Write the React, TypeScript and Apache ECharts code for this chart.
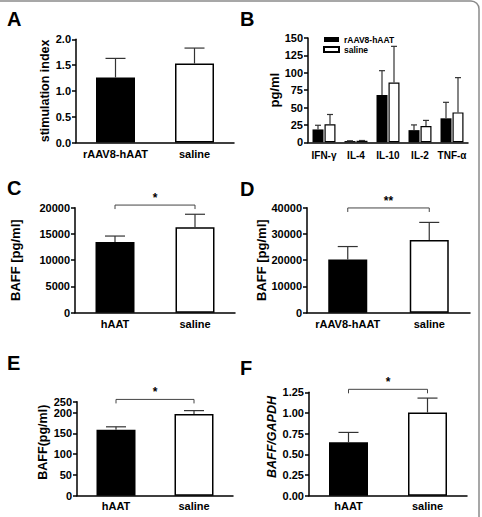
import React, { useEffect, useRef } from "react";
import * as echarts from "echarts";

// ---------- data ----------
const A_CATS = ["rAAV8-hAAT", "saline"];
const A_MEAN = [1.26, 1.53];
const A_SEM = [0.37, 0.3];

const B_CATS = ["IFN-γ", "IL-4", "IL-10", "IL-2", "TNF-α"];
const B_SERIES = ["rAAV8-hAAT", "saline"];
const B_HAAT_MEAN = [18.5, 1.8, 68, 17.5, 34.5];
const B_HAAT_SEM = [6, 0.4, 35, 7.5, 23];
const B_SALINE_MEAN = [26, 2.2, 86, 23.5, 43];
const B_SALINE_SEM = [14, 0.4, 52, 8, 50];

const C_CATS = ["hAAT", "saline"];
const C_MEAN = [13450, 16300];
const C_SEM = [1150, 2450];
const C_SIG = { label: "*", height: 20500 };

const D_CATS = ["rAAV8-hAAT", "saline"];
const D_MEAN = [20300, 27700];
const D_SEM = [4900, 6700];
const D_SIG = { label: "**", height: 39900 };

const E_CATS = ["hAAT", "saline"];
const E_MEAN = [159, 197];
const E_SEM = [7, 8];
const E_SIG = { label: "*", height: 232 };
const E_AXIS_TOP = 226.5; // top tick of the drawn axis
const E_TOP_LABEL = "250";

const F_CATS = ["hAAT", "saline"];
const F_MEAN = [0.645, 1.005];
const F_SEM = [0.12, 0.175];
const F_SIG = { label: "*", height: 1.286 };

const FONT = "'Liberation Sans', Arial, Helvetica, sans-serif";

const grids = [
  { left: 76, top: 39.3, width: 158, height: 103.2 }, // A
  { left: 308, top: 38, width: 160, height: 104.3 }, // B
  { left: 75, top: 207.7, width: 160, height: 105 }, // C
  { left: 307, top: 207.7, width: 163, height: 105 }, // D
  { left: 77, top: 401.7, width: 156, height: 94 }, // E
  { left: 309, top: 392.3, width: 158, height: 103.4 }, // F
];

const axisLineStyle = { color: "#000", width: 1.5 };

function xAx(gi: number, cats: string[], fontSize = 11, margin = 6) {
  return {
    type: "category",
    gridIndex: gi,
    data: cats,
    axisLine: { lineStyle: axisLineStyle },
    axisTick: { alignWithLabel: true, length: 4, lineStyle: axisLineStyle },
    axisLabel: {
      color: "#000",
      fontWeight: "bold",
      fontFamily: FONT,
      fontSize,
      margin,
      interval: 0,
    },
  };
}

function yAx(
  gi: number,
  name: string,
  min: number,
  max: number,
  interval: number,
  fmt: (v: number) => string,
  nameGap: number,
  nameStyle: any = {}
) {
  return {
    type: "value",
    gridIndex: gi,
    min,
    max,
    interval,
    name,
    nameLocation: "middle",
    nameRotate: 90,
    nameGap,
    nameTextStyle: {
      color: "#000",
      fontWeight: "bold",
      fontFamily: FONT,
      fontSize: 12.5,
      ...nameStyle,
    },
    splitLine: { show: false },
    axisLine: { show: true, lineStyle: axisLineStyle },
    axisTick: { show: true, length: 4, lineStyle: axisLineStyle },
    axisLabel: {
      color: "#000",
      fontWeight: "bold",
      fontFamily: FONT,
      fontSize: 11,
      margin: 5,
      formatter: fmt,
    },
  };
}

function pairBars(gi: number, means: number[], barW = 39) {
  return {
    type: "bar",
    xAxisIndex: gi,
    yAxisIndex: gi,
    barWidth: barW,
    z: 2,
    data: means.map((m, i) =>
      i === 0
        ? { value: m, itemStyle: { color: "#000" } }
        : {
            value: m,
            itemStyle: { color: "#fff", borderColor: "#000", borderWidth: 1.5 },
          }
    ),
  };
}

function errSeries(
  gi: number,
  means: number[],
  sems: number[],
  offset: number,
  capHalf: number
) {
  return {
    type: "custom",
    xAxisIndex: gi,
    yAxisIndex: gi,
    z: 4,
    silent: true,
    data: means.map((m, i) => [i, m, m + sems[i]]),
    renderItem: (_params: any, api: any) => {
      const lo = api.coord([api.value(0), api.value(1)]);
      const hi = api.coord([api.value(0), api.value(2)]);
      const x = lo[0] + offset;
      const st = { stroke: "#333", lineWidth: 1.2 };
      return {
        type: "group",
        children: [
          { type: "line", shape: { x1: x, y1: lo[1], x2: x, y2: hi[1] }, style: st },
          {
            type: "line",
            shape: { x1: x - capHalf, y1: hi[1], x2: x + capHalf, y2: hi[1] },
            style: st,
          },
        ],
      };
    },
  };
}

function sigSeries(gi: number, sig: { label: string; height: number }) {
  return {
    type: "custom",
    xAxisIndex: gi,
    yAxisIndex: gi,
    z: 5,
    silent: true,
    clip: false,
    data: [[0, sig.height, 1]],
    renderItem: (_params: any, api: any) => {
      const p0 = api.coord([0, api.value(1)]);
      const p1 = api.coord([1, api.value(1)]);
      return {
        type: "group",
        children: [
          {
            type: "polyline",
            shape: {
              points: [
                [p0[0], p0[1] + 4],
                [p0[0], p0[1]],
                [p1[0], p1[1]],
                [p1[0], p1[1] + 4],
              ],
            },
            style: { stroke: "#444", lineWidth: 1, fill: null },
          },
          {
            type: "text",
            style: {
              text: sig.label,
              x: (p0[0] + p1[0]) / 2,
              y: p0[1] - 1,
              align: "center",
              verticalAlign: "bottom",
              font: `bold 12px ${FONT}`,
              fill: "#000",
            },
          },
        ],
      };
    },
  };
}

const letters = [
  { t: "A", x: 7, y: 9 },
  { t: "B", x: 240, y: 9 },
  { t: "C", x: 7, y: 178 },
  { t: "D", x: 240, y: 179 },
  { t: "E", x: 7, y: 353 },
  { t: "F", x: 240, y: 358 },
];

export default function App() {
  const ref = useRef<HTMLDivElement>(null);
  useEffect(() => {
    document.body.style.margin = "0";
    const chart = echarts.init(ref.current!, null, { renderer: "svg" });
    const option: any = {
      animation: false,
      backgroundColor: "#fff",
      textStyle: { fontFamily: FONT },
      grid: grids.map((g) => ({ ...g, containLabel: false })),
      legend: {
        data: B_SERIES,
        orient: "vertical",
        left: 318,
        top: 30,
        itemWidth: 15,
        itemHeight: 5,
        itemGap: 1,
        icon: "rect",
        textStyle: {
          color: "#000",
          fontWeight: "bold",
          fontFamily: FONT,
          fontSize: 8.5,
        },
        selectedMode: false,
      },
      xAxis: [
        xAx(0, A_CATS),
        xAx(1, B_CATS, 10, 8),
        xAx(2, C_CATS),
        xAx(3, D_CATS),
        xAx(4, E_CATS, 11, 5),
        xAx(5, F_CATS, 11, 5),
      ],
      yAxis: [
        yAx(0, "stimulation index", 0, 2, 0.5, (v) => v.toFixed(1), 22),
        yAx(1, "pg/ml", 0, 150, 25, (v) => String(v), 26, { fontSize: 13 }),
        yAx(2, "BAFF [pg/ml]", 0, 20000, 5000, (v) => String(v), 53, { fontSize: 13 }),
        yAx(3, "BAFF [pg/ml]", 0, 40000, 10000, (v) => String(v), 37, { fontSize: 13 }),
        yAx(
          4,
          "BAFF(pg/ml)",
          0,
          E_AXIS_TOP,
          50,
          (v) => (v > 200 ? E_TOP_LABEL : String(v)),
          28,
          { padding: [0, 0, 0, 13] }
        ),
        yAx(
          5,
          "BAFF/GAPDH",
          0,
          1.25,
          0.25,
          (v) => v.toFixed(2),
          26,
          { fontStyle: "italic", padding: [0, 0, 0, 14] }
        ),
      ],
      series: [
        pairBars(0, A_MEAN),
        errSeries(0, A_MEAN, A_SEM, 0, 10),
        {
          name: B_SERIES[0],
          type: "bar",
          xAxisIndex: 1,
          yAxisIndex: 1,
          barWidth: 11,
          barGap: "9%",
          itemStyle: { color: "#000" },
          data: B_HAAT_MEAN,
        },
        {
          name: B_SERIES[1],
          type: "bar",
          xAxisIndex: 1,
          yAxisIndex: 1,
          barWidth: 11,
          barGap: "9%",
          itemStyle: { color: "#fff", borderColor: "#000", borderWidth: 1.2 },
          data: B_SALINE_MEAN,
        },
        errSeries(1, B_HAAT_MEAN, B_HAAT_SEM, -6, 3),
        errSeries(1, B_SALINE_MEAN, B_SALINE_SEM, 6, 3),
        pairBars(2, C_MEAN),
        errSeries(2, C_MEAN, C_SEM, 0, 10),
        sigSeries(2, C_SIG),
        pairBars(3, D_MEAN),
        errSeries(3, D_MEAN, D_SEM, 0, 10),
        sigSeries(3, D_SIG),
        pairBars(4, E_MEAN),
        errSeries(4, E_MEAN, E_SEM, 0, 10),
        sigSeries(4, E_SIG),
        pairBars(5, F_MEAN),
        errSeries(5, F_MEAN, F_SEM, 0, 10),
        sigSeries(5, F_SIG),
      ],
      graphic: [
        {
          type: "rect",
          silent: true,
          shape: { x: -10, y: 1, width: 489, height: 560, r: 8 },
          style: { fill: "none", stroke: "#8a8a8a", lineWidth: 1.5 },
        },
        ...letters.map((l) => ({
          type: "text",
          silent: true,
          x: l.x,
          y: l.y,
          style: {
            text: l.t,
            font: `bold 20px ${FONT}`,
            fill: "#000",
          },
        })),
      ],
    };
    chart.setOption(option);
    return () => chart.dispose();
  }, []);
  return (
    <div
      ref={ref}
      style={{ position: "absolute", left: 0, top: 0, width: 482, height: 517 }}
    />
  );
}
